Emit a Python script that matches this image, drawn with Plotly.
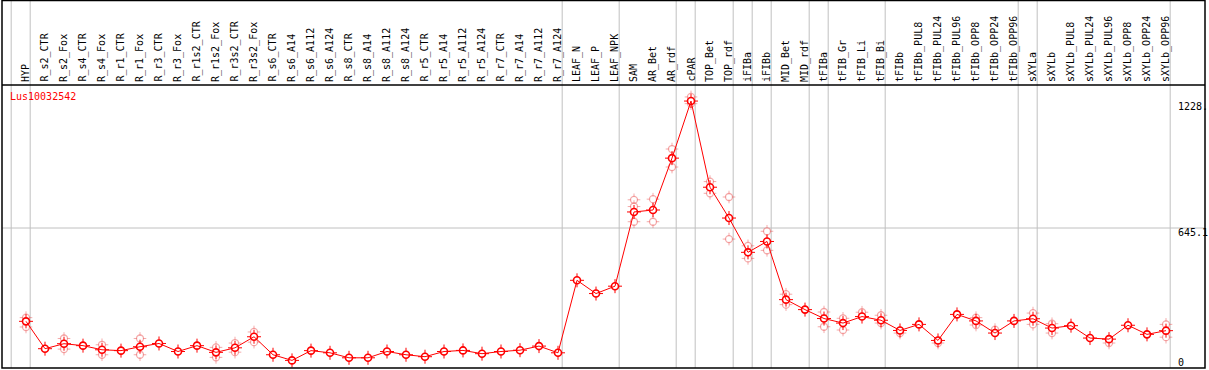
import plotly.graph_objects as go

categories = ["HYP", "R_s2_CTR", "R_s2_Fox", "R_s4_CTR", "R_s4_Fox", "R_r1_CTR", "R_r1_Fox",
              "R_r3_CTR", "R_r3_Fox", "R_r1s2_CTR", "R_r1s2_Fox", "R_r3s2_CTR", "R_r3s2_Fox",
              "R_s6_CTR", "R_s6_A14", "R_s6_A112", "R_s6_A124", "R_s8_CTR", "R_s8_A14",
              "R_s8_A112", "R_s8_A124", "R_r5_CTR", "R_r5_A14", "R_r5_A112", "R_r5_A124",
              "R_r7_CTR", "R_r7_A14", "R_r7_A112", "R_r7_A124", "LEAF_N", "LEAF_P", "LEAF_NPK",
              "SAM", "AR_Bet", "AR_rdf", "cPAR", "TOP_Bet", "TOP_rdf", "iFIBa", "iFIBb",
              "MID_Bet", "MID_rdf", "tFIBa", "tFIB_Gr", "tFIB_Li", "tFIB_Bi", "tFIBb",
              "tFIBb_PUL8", "tFIBb_PUL24", "tFIBb_PUL96", "tFIBb_OPP8", "tFIBb_OPP24",
              "tFIBb_OPP96", "sXYLa", "sXYLb", "sXYLb_PUL8", "sXYLb_PUL24", "sXYLb_PUL96",
              "sXYLb_OPP8", "sXYLb_OPP24", "sXYLb_OPP96"]

means = [215, 89, 112, 103, 84, 80, 98, 113, 76, 103, 72, 93, 144, 61, 35, 80, 70, 47, 47,
         76, 61, 52, 76, 81, 66, 76, 82, 101, 70, 404, 343, 377, 719, 728, 967, 1230, 833,
         691, 533, 583, 315, 269, 228, 207, 237, 220, 173, 201, 127, 247, 217, 161, 217,
         227, 184, 195, 138, 133, 197, 155, 172]

rep_hi = [232, None, 136, None, 107, None, 136, None, None, None, 95, 115, 166,
          None, None, None, None, None, None, None, None, None, None, None, None,
          None, None, None, None, None, None, None,
          775, 778, 1009, 1249, 859, 788, 563, 630, 340, None, 258, 229, 257, 243, None,
          None, None, None, 232, 177, None, 253, 204, None, None, None, None, None, 201]
rep_lo = [189, None, 87, None, 61, None, 61, None, None, None, 49, 73, 119,
          None, None, None, None, None, None, None, None, None, None, None, None,
          None, None, None, None, None, None, None,
          674, 674, 926, 1218, 805, 594, 505, 542, 292, None, 190, 175, None, 207, 161,
          None, 115, None, 198, None, None, 201, 161, None, None, 115, None, None, 142]
rep_mid = [None] * 32 + [744] + [None] * 28

group_breaks = [-1, 0, 28, 31, 34, 35, 37, 38, 39, 41, 42, 45, 52, 53, 60]
ytick_text = ["1228.", "645.1", "0"]
gene = "Lus10032542"

W, H = 1209, 370
L, R, T, B = 2, 4, 85, 2
plot_w = W - L - R
plot_h = H - T - B
px_per_cat = 19.0
x0 = -(26 - L) / px_per_cat
x1 = x0 + plot_w / px_per_cat
y_top = plot_h / (140.0 / 645.1)

xs = list(range(len(categories)))
font = "DejaVu Sans Mono"
RED = "#ff0000"
PINK = "rgba(235,90,90,0.5)"

fig = go.Figure()

for reps in (rep_hi, rep_lo, rep_mid):
    rx = [i for i, v in zip(xs, reps) if v is not None]
    ry = [v for v in reps if v is not None]
    fig.add_trace(go.Scatter(x=rx, y=ry, mode="markers", hoverinfo="skip",
                             marker=dict(symbol="cross-thin-open", size=9, color=PINK,
                                         line=dict(color=PINK, width=1))))
    fig.add_trace(go.Scatter(x=rx, y=ry, mode="markers", hoverinfo="skip",
                             marker=dict(symbol="circle", size=6, color="white",
                                         line=dict(width=0))))
    fig.add_trace(go.Scatter(x=rx, y=ry, mode="markers", hoverinfo="skip",
                             marker=dict(symbol="circle-open", size=7, color=PINK,
                                         line=dict(color=PINK, width=1.3))))

fig.add_trace(go.Scatter(x=xs, y=means, mode="markers", hoverinfo="skip",
                         marker=dict(symbol="cross-thin-open", size=10, color=RED,
                                     line=dict(color=RED, width=1))))
fig.add_trace(go.Scatter(x=xs, y=means, mode="markers", hoverinfo="skip",
                         marker=dict(symbol="circle", size=6, color="white",
                                     line=dict(width=0))))
fig.add_trace(go.Scatter(x=xs, y=means, mode="lines+markers", hoverinfo="skip",
                         line=dict(color=RED, width=1),
                         marker=dict(symbol="circle-open", size=7, color=RED,
                                     line=dict(color=RED, width=1.6))))

shapes = []
top_paper = (H - B - 0.5) / plot_h
for g in group_breaks:
    shapes.append(dict(type="line", xref="x", yref="paper", x0=g + 0.22, x1=g + 0.22,
                       y0=0, y1=top_paper, line=dict(color="#c0c0c0", width=1), layer="below"))
shapes.append(dict(type="line", xref="paper", yref="y", x0=0, x1=1, y0=645.1, y1=645.1,
                   line=dict(color="#c0c0c0", width=1), layer="below"))
shapes.append(dict(type="rect", xref="paper", yref="paper", x0=0, x1=1, y0=0, y1=top_paper,
                   line=dict(color="black", width=1.5)))
shapes.append(dict(type="line", xref="paper", yref="paper", x0=0, x1=1, y0=1, y1=1,
                   line=dict(color="black", width=1.5)))

annotations = []
label_y = (H - B - 83) / plot_h
for i, c in enumerate(categories):
    annotations.append(dict(x=i, y=label_y, xref="x", yref="paper", text=c, textangle=-90,
                            showarrow=False, xanchor="center", yanchor="bottom",
                            font=dict(family=font, size=10, color="black"),
                            borderpad=0))
annotations.append(dict(x=(9 - L) / plot_w, y=(H - B - 97) / plot_h, xref="paper", yref="paper",
                        text=gene, showarrow=False, xanchor="left", yanchor="middle",
                        font=dict(family=font, size=10, color=RED), borderpad=0))
ylabel_y = [106.7, 232.7, 362]
for t, yy in zip(ytick_text, ylabel_y):
    annotations.append(dict(x=(1177 - L) / plot_w, y=(H - B - yy) / plot_h, xref="paper",
                            yref="paper", text=t, showarrow=False, xanchor="left",
                            yanchor="middle", font=dict(family=font, size=10, color="black"),
                            borderpad=0))

fig.update_layout(
    width=W, height=H, margin=dict(l=L, r=R, t=T, b=B),
    paper_bgcolor="white", plot_bgcolor="white", showlegend=False,
    xaxis=dict(range=[x0, x1], showgrid=False, zeroline=False, showticklabels=False,
               fixedrange=True),
    yaxis=dict(range=[0, y_top], showgrid=False, zeroline=False, showticklabels=False,
               fixedrange=True),
    shapes=shapes, annotations=annotations,
)

fig.write_html("out.html", config={"displayModeBar": False},
               post_script="document.body.style.margin='0';document.body.style.padding='0';")
